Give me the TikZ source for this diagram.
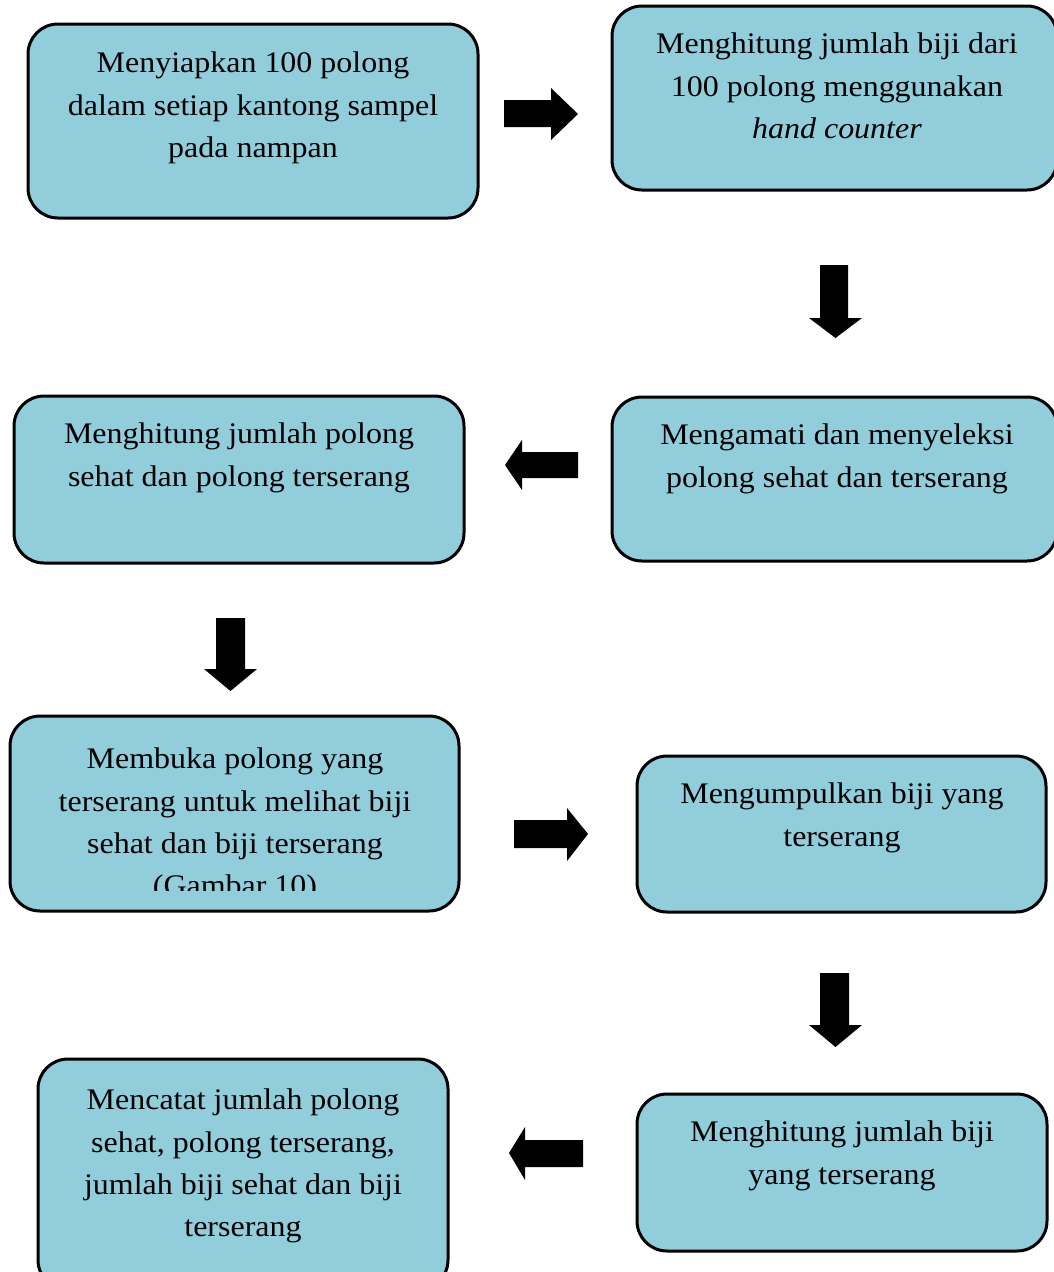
\documentclass[tikz,border=0pt]{standalone}
\usepackage{fontspec}
\setmainfont[FakeStretch=1.07]{Liberation Serif}
\definecolor{boxfill}{HTML}{92CDDC}
\begin{document}
\begin{tikzpicture}[x=1bp,y=-1bp,
  box/.style={draw=black, line width=3bp, fill=boxfill, rounded corners=30bp},
  txt/.style={anchor=north, inner sep=0pt, align=center, font=\fontsize{30}{42.5}\selectfont},
  blockarrow/.style={fill=black, draw=none}]
\useasboundingbox (0,0) rectangle (1054,1272);
\clip (0,0) rectangle (1054,1272);
% boxes
\draw[box] (28,24) rectangle (478,218);
\draw[box] (612,6) rectangle (1057,190);
\draw[box] (612,397) rectangle (1057,561);
\draw[box] (14,396) rectangle (464,563);
\draw[box] (10,716) rectangle (459,911);
\draw[box] (637,756) rectangle (1046,912);
\draw[box] (637,1094) rectangle (1047,1251);
\draw[box] (38,1059) rectangle (448,1290);
% texts
\node[txt] (t1) at (253,52) {Menyiapkan 100 polong\\dalam setiap kantong sampel\\pada nampan};
\node[txt] (t2) at (837,33) {Menghitung jumlah biji dari\\100 polong menggunakan\\\textit{hand counter}};
\node[txt] (t3) at (837,424) {Mengamati dan menyeleksi\\polong sehat dan terserang};
\node[txt] (t4) at (239,423) {Menghitung jumlah polong\\sehat dan polong terserang};
\begin{scope}
\clip (10,716) rectangle (459,890);
\node[txt] (t5) at (235,748) {Membuka polong yang\\terserang untuk melihat biji\\sehat dan biji terserang\\(Gambar 10)};
\end{scope}
\node[txt] (t6) at (842,783) {Mengumpulkan biji yang\\terserang};
\node[txt] (t7) at (842,1121) {Menghitung jumlah biji\\yang terserang};
\node[txt] (t8) at (243,1089) {Mencatat jumlah polong\\sehat, polong terserang,\\jumlah biji sehat dan biji\\terserang};
% block arrows
\fill[blockarrow] (504,100) -- (551,100) -- (551,88) -- (578,114) -- (551,140) -- (551,127) -- (504,127) -- cycle;
\fill[blockarrow] (820,265) -- (848,265) -- (848,318) -- (862,318) -- (835.5,338) -- (809,318) -- (820,318) -- cycle;
\fill[blockarrow] (578,452) -- (522,452) -- (522,440) -- (505,465) -- (522,490) -- (522,478) -- (578,478) -- cycle;
\fill[blockarrow] (216,618) -- (245,618) -- (245,669) -- (257,669) -- (230.5,691) -- (204,669) -- (216,669) -- cycle;
\fill[blockarrow] (514,820) -- (567,820) -- (567,808) -- (588,834) -- (567,861) -- (567,848) -- (514,848) -- cycle;
\fill[blockarrow] (820,973) -- (849,973) -- (849,1025) -- (862,1025) -- (835.5,1047) -- (809,1025) -- (820,1025) -- cycle;
\fill[blockarrow] (583,1140) -- (525,1140) -- (525,1127) -- (509,1153) -- (525,1180) -- (525,1167) -- (583,1167) -- cycle;
\end{tikzpicture}
\end{document}
